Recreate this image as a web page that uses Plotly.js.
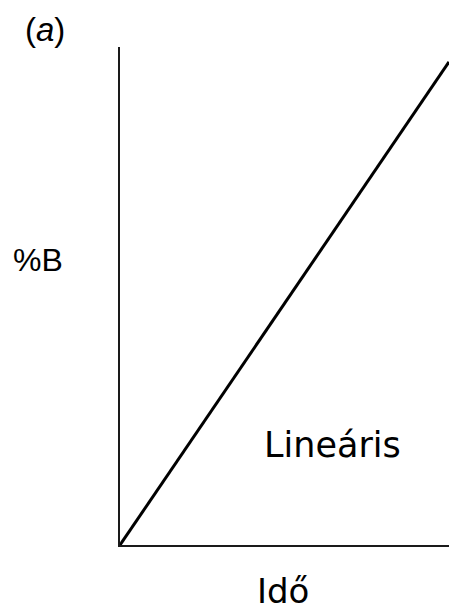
<!DOCTYPE html>
<html>
<head>
<meta charset="utf-8">
<script src="https://cdn.plot.ly/plotly-3.0.1.min.js"></script>
<style>
  html, body { margin: 0; padding: 0; background: #fff; }
  #chart { width: 449px; height: 610px; }
</style>
</head>
<body>
<div id="chart"></div>
<script>
// Linear gradient profile: %B rising steadily with time
const timeValues = [0, 1];
const percentB = [0, 0.97];

const panelLabel = '(<i>a</i>)';
const yLabel = '%B';
const xLabel = 'Idő';
const curveLabel = 'Lineáris';

const trace = {
  x: timeValues,
  y: percentB,
  type: 'scatter',
  mode: 'lines',
  line: { color: '#000', width: 3 },
  hoverinfo: 'skip',
  cliponaxis: false
};

const layout = {
  width: 449,
  height: 610,
  margin: { l: 120, r: 0, t: 47, b: 65, pad: 0 },
  paper_bgcolor: '#fff',
  plot_bgcolor: '#fff',
  showlegend: false,
  xaxis: {
    range: [0, 1],
    showline: true, linewidth: 2, linecolor: '#1a1a1a',
    showgrid: false, zeroline: false, showticklabels: false, ticks: '',
    fixedrange: true
  },
  yaxis: {
    range: [0, 1],
    showline: true, linewidth: 2, linecolor: '#1a1a1a',
    showgrid: false, zeroline: false, showticklabels: false, ticks: '',
    fixedrange: true
  },
  annotations: [
    {
      text: panelLabel, xref: 'paper', yref: 'paper',
      x: -0.228, y: 1.036, xanchor: 'center', yanchor: 'middle',
      showarrow: false,
      font: { family: 'Liberation Sans, Arial, sans-serif', size: 33, color: '#000' }
    },
    {
      text: yLabel, xref: 'paper', yref: 'paper',
      x: -0.249, y: 0.573, xanchor: 'center', yanchor: 'middle',
      showarrow: false,
      font: { family: 'Liberation Sans, Arial, sans-serif', size: 32, color: '#000' }
    },
    {
      text: curveLabel, xref: 'paper', yref: 'paper',
      x: 0.646, y: 0.2, xanchor: 'center', yanchor: 'middle',
      showarrow: false,
      font: { family: 'DejaVu Sans, sans-serif', size: 35, color: '#000' }
    },
    {
      text: xLabel, xref: 'paper', yref: 'paper',
      x: 0.494, y: 0, xanchor: 'center', yanchor: 'middle', yshift: -46,
      showarrow: false,
      font: { family: 'DejaVu Sans, sans-serif', size: 34, color: '#000' }
    }
  ]
};

Plotly.newPlot('chart', [trace], layout, { displayModeBar: false, staticPlot: true });
</script>
</body>
</html>
